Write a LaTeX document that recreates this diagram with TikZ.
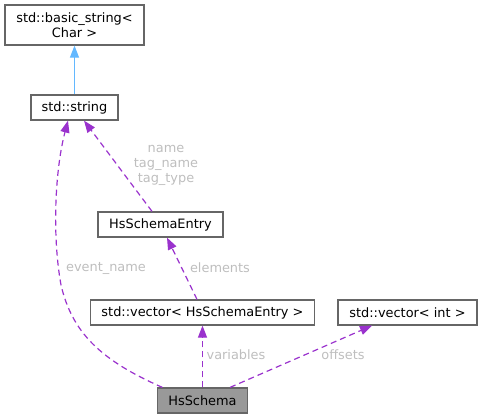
\documentclass[tikz,border=0pt]{standalone}
\usepackage{fontspec}
\setmainfont{DejaVu Sans}
\usetikzlibrary{arrows.meta}
\definecolor{boxline}{HTML}{666666}
\definecolor{hsfill}{HTML}{999999}
\definecolor{purp}{HTML}{9A32CD}
\definecolor{inhblue}{HTML}{63B8FF}
\definecolor{lblgray}{HTML}{BEBEBE}
\tikzset{
  cls/.style={draw=boxline, line width=1.2bp, fill=white, inner sep=0pt, align=center,
    font=\fontsize{12.9bp}{15bp}\selectfont},
  usage/.style={draw=purp, line width=1.2bp, dash pattern=on 6bp off 4bp,
    -{Triangle[length=12bp,width=9bp,fill=purp]}},
  inherit/.style={draw=inhblue, line width=1.2bp, -{Triangle[length=12bp,width=9bp,fill=inhblue]}},
  lbl/.style={text=lblgray, inner sep=0pt, align=center,
    font=\fontsize{12.9bp}{15bp}\selectfont}
}
\begin{document}
\begin{tikzpicture}[x=1bp,y=-1bp]
\useasboundingbox (0,0) rectangle (483,419);
\node[cls, minimum width=139bp, minimum height=40bp] (bs) at (74.5,25) {std::basic\_string<\\Char >};
\node[cls, minimum width=87bp, minimum height=25bp] (str) at (74.5,107.5) {std::string};
\node[cls, minimum width=125bp, minimum height=25bp] (ent) at (160.5,224.5) {HsSchemaEntry};
\node[cls, minimum width=224bp, minimum height=25bp] (vec) at (202.5,312.5) {std::vector< HsSchemaEntry >};
\node[cls, minimum width=139bp, minimum height=25bp] (vint) at (407.5,312.5) {std::vector< int >};
\node[cls, fill=hsfill, minimum width=90bp, minimum height=25bp] (hs) at (202.5,400.5) {HsSchema};

\draw[inherit] (str.north) -- (bs.south);
\draw[usage] ([xshift=5.5bp]hs.north west) .. controls (100,360) and (72,332) .. (61,285)
   .. controls (52,235) and (55,170) .. ([xshift=-6.5bp]str.south);
\draw[usage] ([xshift=-8.5bp]ent.north) -- ([xshift=9.5bp]str.south);
\draw[usage] ([xshift=-5.5bp]vec.north) -- ([xshift=6.5bp]ent.south);
\draw[usage] (hs.north) -- (vec.south);
\draw[usage] ([xshift=27.5bp]hs.north) -- ([xshift=-35.5bp]vint.south);

\node[lbl] (lname) at (166,165) {name\\tag\_name\\tag\_type};
\node[lbl] (lev) at (106,268) {event\_name};
\node[lbl] (lel) at (220,268) {elements};
\node[lbl] (lvar) at (236,355) {variables};
\node[lbl] (loff) at (343,355) {offsets};
\end{tikzpicture}
\end{document}
